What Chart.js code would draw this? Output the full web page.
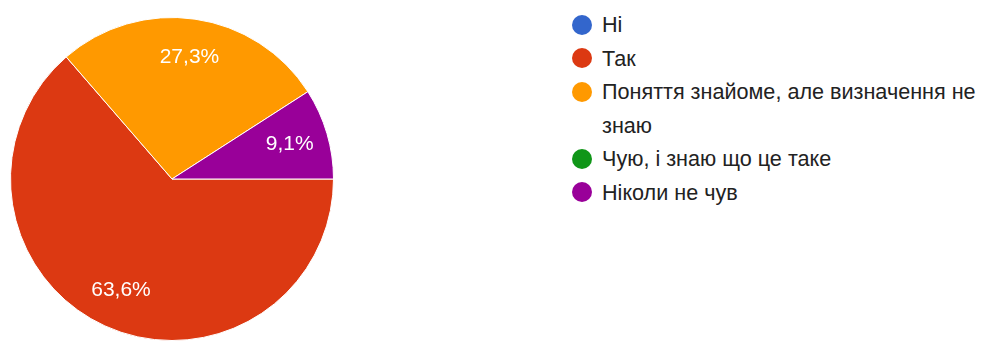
<!DOCTYPE html>
<html>
<head>
<meta charset="utf-8">
<script src="https://cdn.jsdelivr.net/npm/chart.js@4"></script>
<style>
  html, body { margin: 0; padding: 0; background: #fff; }
  #wrap { position: relative; width: 989px; height: 343px; overflow: hidden; font-family: "Liberation Sans", Arial, sans-serif; }
  #pie-box { position: absolute; left: 0; top: 0; width: 344px; height: 343px; }
  #legend { position: absolute; left: 572px; top: 8px; margin: 0; padding: 0; list-style: none; color: #222; font-size: 21.6px; line-height: 33.5px; }
  #legend li { position: relative; padding-left: 30px; white-space: nowrap; }
  #legend .dot { position: absolute; left: 0; top: 6.75px; width: 20px; height: 20px; border-radius: 50%; }
</style>
</head>
<body>
<div id="wrap">
  <div id="pie-box"><canvas id="grafico-pie"></canvas></div>
  <ul id="legend"></ul>
</div>
<script>
// ========================
// Dados
// ========================
const respostas = [
  "Ні",
  "Так",
  ["Поняття знайоме, але визначення не", "знаю"],
  "Чую, і знаю що це таке",
  "Ніколи не чув"
];
const votos = [0, 7, 3, 0, 1];
const cores = ["#3366cc", "#dc3912", "#ff9900", "#109618", "#990099"];

// ========================
// Percentuais dentro das fatias
// ========================
const rotulosPlugin = {
  id: "rotulos",
  afterDatasetsDraw(chart) {
    const ctx = chart.ctx;
    const meta = chart.getDatasetMeta(0);
    const total = votos.reduce((a, b) => a + b, 0);
    ctx.save();
    ctx.fillStyle = "#fff";
    ctx.font = "21px 'Liberation Sans', Arial, sans-serif";
    ctx.textAlign = "center";
    ctx.textBaseline = "middle";
    meta.data.forEach((arc, i) => {
      if (!votos[i]) return;
      const p = arc.getProps(["x", "y", "startAngle", "endAngle", "outerRadius"], true);
      const meio = (p.startAngle + p.endAngle) / 2;
      const r = p.outerRadius * 0.76;
      const texto = (votos[i] / total * 100).toFixed(1).replace(".", ",") + "%";
      ctx.fillText(texto, p.x + Math.cos(meio) * r, p.y + Math.sin(meio) * r);
    });
    ctx.restore();
  }
};

const pieCtx = document.getElementById("grafico-pie").getContext("2d");
new Chart(pieCtx, {
  type: "pie",
  data: {
    labels: respostas,
    datasets: [{
      data: votos,
      backgroundColor: cores,
      borderColor: "#fff",
      borderWidth: 1
    }]
  },
  options: {
    responsive: true,
    maintainAspectRatio: false,
    animation: false,
    rotation: 90,
    layout: { padding: { left: 10, right: 10, top: 17, bottom: 2 } },
    plugins: {
      legend: { display: false },
      tooltip: { enabled: false }
    }
  },
  plugins: [rotulosPlugin]
});

// ========================
// Legenda
// ========================
const legenda = document.getElementById("legend");
respostas.forEach((r, i) => {
  const li = document.createElement("li");
  const dot = document.createElement("span");
  dot.className = "dot";
  dot.style.background = cores[i];
  li.appendChild(dot);
  const linhas = Array.isArray(r) ? r : [r];
  linhas.forEach((linha, j) => {
    if (j > 0) li.appendChild(document.createElement("br"));
    li.appendChild(document.createTextNode(linha));
  });
  legenda.appendChild(li);
});
</script>
</body>
</html>
